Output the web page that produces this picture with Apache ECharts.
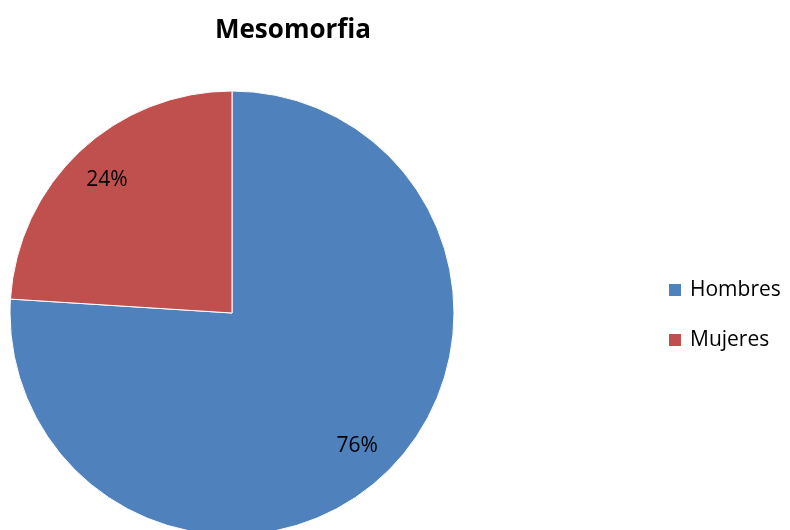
<!DOCTYPE html>
<html><head><meta charset="utf-8">
<script src="https://cdn.jsdelivr.net/npm/echarts@6/dist/echarts.min.js"></script>
<style>html,body{margin:0;padding:0;background:#fff}#c{width:790px;height:530px}</style>
</head><body><div id="c"></div>
<script>
const categories = ['Hombres', 'Mujeres'];
const values = [76, 24];
const colors = ['#4F81BD', '#C0504D'];
const titleText = 'Mesomorfia';

const data = categories.map((n, i) => ({ name: n, value: values[i], itemStyle: { color: colors[i] } }));
const center = [232, 313];
const R = 222;
const chart = echarts.init(document.getElementById('c'), null, { renderer: 'canvas' });
chart.setOption({
  animation: false,
  title: { text: titleText, left: 293, top: 18, textAlign: 'center', padding: 0,
    textStyle: { fontFamily: 'Open Sans', fontWeight: 'bold', fontSize: 26, color: '#000' } },
  legend: {
    data: categories, orient: 'vertical', left: 667, top: 278, padding: 0,
    itemWidth: 14, itemHeight: 14, itemGap: 26, icon: 'rect',
    textStyle: { fontFamily: 'Open Sans', fontSize: 21, color: '#000', lineHeight: 24, padding: [0, 0, 0, 3] }
  },
  series: [
    { type: 'pie', center: center, radius: [0, R], startAngle: 90, clockwise: true,
      data: data, label: { show: false }, labelLine: { show: false },
      itemStyle: { borderColor: '#fff', borderWidth: 1 }, emphasis: { disabled: true } },
    { type: 'pie', center: center, radius: [R * 0.62, R], startAngle: 90, clockwise: true, silent: true,
      data: data.map(d => ({ name: d.name, value: d.value, itemStyle: { color: 'transparent' } })),
      label: { show: true, position: 'inside', formatter: p => p.value + '%',
        fontFamily: 'Open Sans', fontSize: 21, color: '#000' },
      labelLine: { show: false }, itemStyle: { borderWidth: 0 }, emphasis: { disabled: true } }
  ]
});
</script></body></html>
